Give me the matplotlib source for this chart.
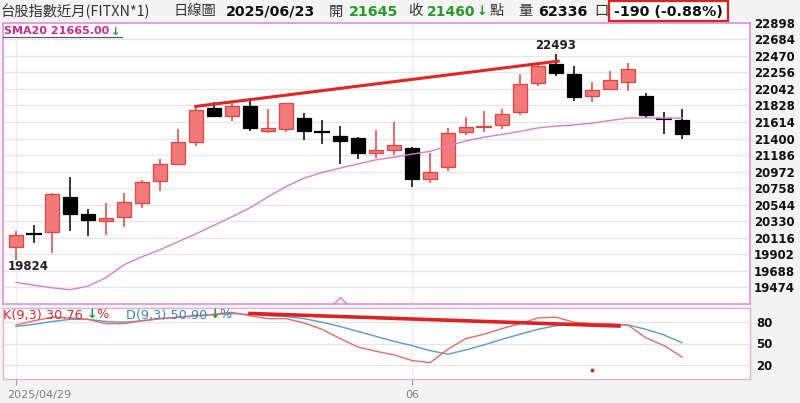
import matplotlib
matplotlib.use('Agg')
import matplotlib.pyplot as plt
from matplotlib.patches import Rectangle
from matplotlib.path import Path
import matplotlib.transforms as mtransforms
import numpy as np

# ---- data ----
dates = ['2025/04/29', '2025/04/30', '2025/05/02', '2025/05/05', '2025/05/06', '2025/05/07',
         '2025/05/08', '2025/05/09', '2025/05/12', '2025/05/13', '2025/05/14', '2025/05/15',
         '2025/05/16', '2025/05/19', '2025/05/20', '2025/05/21', '2025/05/22', '2025/05/23',
         '2025/05/26', '2025/05/27', '2025/05/28', '2025/05/29', '2025/06/02', '2025/06/03',
         '2025/06/04', '2025/06/05', '2025/06/06', '2025/06/09', '2025/06/10', '2025/06/11',
         '2025/06/12', '2025/06/13', '2025/06/16', '2025/06/17', '2025/06/18', '2025/06/19',
         '2025/06/20', '2025/06/23']
opens = [19996, 20170, 20185, 20650, 20426, 20327, 20384, 20565, 20853, 21069, 21357, 21792,
         21693, 21822, 21503, 21525, 21663, 21490, 21438, 21404, 21211, 21249, 21275, 20879,
         21030, 21490, 21548, 21572, 21740, 22123, 22364, 22231, 21955, 22045, 22136, 21951,
         21660, 21645]
highs = [20198, 20284, 20702, 20901, 20487, 20565, 20694, 20866, 21133, 21521, 21792, 21877,
         21857, 21921, 21779, 21860, 21727, 21641, 21563, 21425, 21512, 21619, 21290, 21218,
         21534, 21676, 21757, 21783, 22231, 22373, 22493, 22342, 22136, 22274, 22381, 21986,
         21748, 21779]
lows = [19824, 20048, 19919, 20198, 20133, 20155, 20255, 20500, 20724, 21060, 21305, 21676,
        21628, 21499, 21469, 21490, 21383, 21327, 21072, 21133, 21146, 21189, 20779, 20831,
        20982, 21447, 21490, 21525, 21705, 22084, 22209, 21886, 21870, 22037, 22019, 21671,
        21456, 21395]
closes = [20155, 20160, 20681, 20426, 20349, 20371, 20578, 20836, 21069, 21353, 21770, 21693,
          21822, 21534, 21541, 21857, 21503, 21478, 21373, 21218, 21249, 21314, 20875, 20965,
          21469, 21547, 21556, 21715, 22106, 22342, 22252, 21934, 22025, 22158, 22304, 21702,
          21650, 21460]
sma20 = [19539, 19503, 19470, 19445, 19490, 19600, 19768, 19871, 19962, 20065, 20168, 20278,
         20388, 20504, 20646, 20779, 20888, 20960, 21017, 21072, 21124, 21159, 21198, 21234,
         21305, 21370, 21417, 21453, 21492, 21538, 21560, 21576, 21598, 21634, 21663, 21667,
         21663, 21665]
k_vals = [76, 82, 87, 86, 84, 78, 78, 82, 85, 87, 89, 91, 94, 89, 85, 85, 79, 70, 57, 45,
          39, 34, 26, 23, 42, 57, 63, 71, 78, 86, 87, 80, 78, 77, 76, 58, 47, 31]
d_vals = [74, 77, 81, 84, 84, 81, 80, 82, 85, 87, 89, 91, 92, 91, 89, 88, 85, 80, 74, 67,
          60, 53, 47, 40, 35, 41, 48, 56, 63, 70, 75, 77, 78, 78, 76, 70, 62, 51]
price_ticks = [22898, 22684, 22470, 22256, 22042, 21828, 21614, 21400, 21186, 20972, 20758,
               20544, 20330, 20116, 19902, 19688, 19474]
kd_ticks = [80, 50, 20]
volume = 62336
k_last, d_last = 30.76, 50.90
# hand drawn lines on the chart
trend_x = [9.9, 30.2]
trend_y = [21813, 22403]
kd_trend_x = [12.9, 33.6]
kd_trend_y = [92.4, 74.5]
dot_x = [32]
dot_y = [12.6]
caret_x = [18]

W, H = 800, 403
GREEN = '#2a9a2a'
RED_FILL = '#f47a7a'
RED_EDGE = '#e04444'


def box(l, t, r, b):
    return [l / W, 1 - b / H, (r - l) / W, (b - t) / H]


fig = plt.figure(figsize=(8, 4.03), dpi=100)
fig.patch.set_facecolor('#f4f4f4')
ax = fig.add_axes(box(3, 22.7, 749.5, 304))
kx = fig.add_axes(box(3, 308, 749.5, 379))

x = np.arange(len(dates))
xlim = (-0.722, 40.75)

# ---- candles ----
for i in x:
    o, h, l, c = opens[i], highs[i], lows[i], closes[i]
    up = c >= o
    edge = RED_EDGE if up else 'black'
    ax.vlines(i, l, h, color=edge, lw=1.1, zorder=3)
    if abs(c - o) < 20:
        ax.hlines((o + c) / 2, i - 0.42, i + 0.42, color=edge, lw=1.6, zorder=4)
    else:
        ax.add_patch(Rectangle((i - 0.4, min(o, c)), 0.8, abs(c - o),
                               fc=RED_FILL if up else 'black', ec=edge, lw=0.9, zorder=4))

ax.plot(x, sma20, color='#d77fc9', lw=1.0, zorder=5)
ax.plot(trend_x, trend_y, color='#e02626', lw=2.2, solid_capstyle='butt', zorder=6)

hi_i = int(np.argmax(highs))
lo_i = int(np.argmin(lows))
ax.annotate(str(highs[hi_i]), (hi_i, highs[hi_i]), xytext=(0, 1.5), textcoords='offset points',
            ha='center', va='bottom', fontsize=8.5, fontweight='bold', color='#222')
ax.annotate(str(lows[lo_i]), (lo_i, lows[lo_i]), xytext=(-6, 0), textcoords='offset points',
            ha='left', va='top', fontsize=8.5, fontweight='bold', color='#222')

caret = Path([(-1, 0), (0, 1), (1, 0)], [Path.MOVETO, Path.LINETO, Path.LINETO])
ax.plot(caret_x, [19260] * len(caret_x), marker=caret, ms=10, mfc='none', mec='#d77fc9',
        mew=1.0, ls='none', clip_on=False, zorder=6)

ax.set_xlim(*xlim)
ax.set_ylim(19260, 22898)
ax.set_yticks(price_ticks)
ax.yaxis.tick_right()
ax.tick_params(axis='y', length=0, pad=3, labelsize=8.5, labelcolor='#111')
for lbl in ax.get_yticklabels():
    lbl.set_fontweight('bold')
ax.set_xticks([0, 22])
ax.tick_params(axis='x', length=0, labelbottom=False)
ax.grid(True, axis='y', color='#e6e6e6', lw=0.9, zorder=0)
ax.grid(True, axis='x', color='#ededed', lw=0.8, zorder=0)
ax.set_axisbelow(True)
for s in ax.spines.values():
    s.set_color('#d98cd9')
    s.set_linewidth(1.1)

# ---- KD panel ----
kx.plot(x, d_vals, color='#5b9bd0', lw=1.0, zorder=3)
kx.plot(x, k_vals, color='#e86a6a', lw=1.0, zorder=3)
kx.plot(kd_trend_x, kd_trend_y, color='#dd2222', lw=2.6, solid_capstyle='butt', zorder=4)
kx.plot(dot_x, dot_y, 's', color='#c62020', ms=1.8, zorder=4)
kx.set_xlim(*xlim)
kx.set_ylim(0, 100)
kx.set_yticks(kd_ticks)
kx.yaxis.tick_right()
kx.tick_params(axis='y', length=0, pad=5, labelsize=8.5, labelcolor='#111')
for lbl in kx.get_yticklabels():
    lbl.set_fontweight('bold')
tick_idx = [0, 22]
kx.set_xticks(tick_idx)
kx.tick_params(axis='x', length=4, color='#999', labelbottom=False)
kx.grid(True, axis='y', color='#e6e6e6', lw=0.9, zorder=0)
kx.grid(True, axis='x', color='#ededed', lw=0.8, zorder=0)
kx.set_axisbelow(True)
for s in kx.spines.values():
    s.set_color('#d9b6d9')
    s.set_linewidth(1.0)

# date labels below the KD panel
lab_tr = mtransforms.blended_transform_factory(kx.transData, fig.transFigure)
for j, i in enumerate(tick_idx):
    if j == 0:
        kx.text(i, 1 - 395 / H, dates[i],
                transform=lab_tr + mtransforms.ScaledTranslation(-0.085, 0, fig.dpi_scale_trans),
                ha='left', va='center', fontsize=8, color='#808080', clip_on=False)
    else:
        kx.text(i, 1 - 395 / H, dates[i][5:7], transform=lab_tr, ha='center', va='center',
                fontsize=8, color='#808080', clip_on=False)


def ftext(px, py, s, **kw):
    kw.setdefault('va', 'center')
    return fig.text(px / W, 1 - py / H, s, **kw)


# KD labels (lines run over them)
ftext(3, 315, 'K(9,3) %.2f' % k_last, color='#e02a2a', fontsize=9.3, zorder=1)
ftext(87, 315, '↓', color=GREEN, fontsize=9, fontweight='bold')
ftext(96, 315, '%', color='#e02a2a', fontsize=9.3)
ftext(126, 315, 'D(9,3) %.2f' % d_last, color='#3c86c4', fontsize=9.3, zorder=1)
ftext(210, 315, '↓', color=GREEN, fontsize=9, fontweight='bold')
ftext(219, 315, '%', color='#3c86c4', fontsize=9.3)

# SMA label
ftext(4, 31.5, 'SMA20 %.2f' % sma20[-1], color='#d02a92', fontsize=8, fontweight='bold')
ftext(111, 31.5, '↓', color=GREEN, fontsize=8, fontweight='bold')
fig.add_artist(plt.Line2D([3 / W, 122 / W], [1 - 36.7 / H, 1 - 36.7 / H], color='#555', lw=0.8))

# ---- header ----
cjk = ['Noto Sans CJK TC', 'DejaVu Sans']
hy = 11.5
ftext(1, hy, '台股指數近月(FITXN*1)', family=cjk, fontsize=10.3, color='#333')
ftext(173, hy, '日線圖', family=cjk, fontsize=10.3, color='#333')
ftext(226, hy, dates[-1], fontsize=10.3, fontweight='bold', color='#111')
ftext(329, hy, '開', family=cjk, fontsize=10.3, color='#333')
ftext(349, hy, str(opens[-1]), fontsize=10.3, fontweight='bold', color=GREEN)
ftext(408, hy, '收', family=cjk, fontsize=10.3, color='#333')
ftext(427, hy, str(closes[-1]), fontsize=10, fontweight='bold', color=GREEN)
ftext(477, hy, '↓', fontsize=9, fontweight='bold', color=GREEN)
ftext(490, hy, '點', family=cjk, fontsize=10.3, color='#333')
ftext(518, hy, '量', family=cjk, fontsize=10.3, color='#333')
ftext(538, hy, str(volume), fontsize=10.3, fontweight='bold', color='#111')
ftext(594, hy, '口', family=cjk, fontsize=10.3, color='#333')
fig.add_artist(Rectangle((609 / W, 1 - 21 / H), 119 / W, 20.5 / H, transform=fig.transFigure,
                         fc='white', ec='#dd2020', lw=1.6))
chg = closes[-1] - closes[-2]
ftext(668.5, hy, '%d (%.2f%%)' % (chg, chg / closes[-2] * 100), ha='center',
      fontsize=10.3, fontweight='bold', color='#111')

fig.savefig('out.png', dpi=100, facecolor=fig.get_facecolor())
